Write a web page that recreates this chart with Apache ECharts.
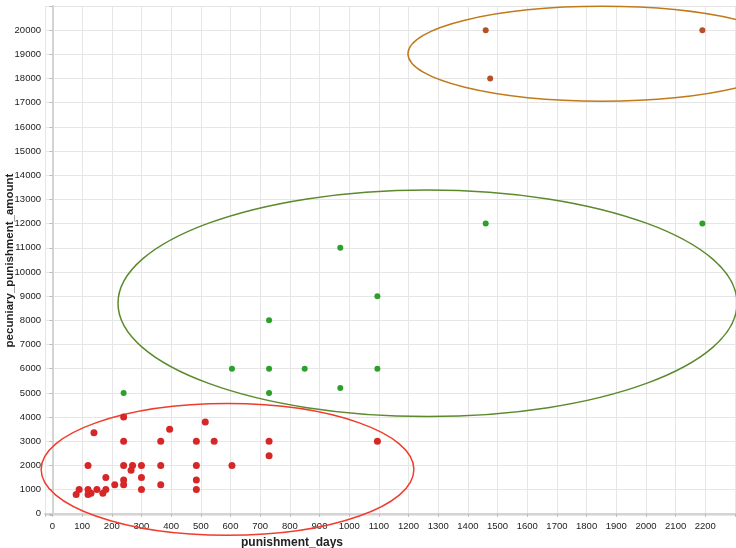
<!DOCTYPE html>
<html>
<head>
<meta charset="utf-8">
<script src="https://cdn.jsdelivr.net/npm/echarts@6/dist/echarts.min.js"></script>
<style>html,body{margin:0;padding:0;background:#fff}#chart{width:736px;height:548px}</style>
</head>
<body>
<div id="chart"></div>
<script>
// cluster 1 (red)
var redDays    = [80, 90, 120, 120, 120, 130, 140, 150, 170, 180, 180, 210, 240, 240, 240, 240, 240, 265, 270, 300, 300, 300, 365, 365, 365, 395, 485, 485, 485, 485, 515, 545, 605, 730, 730, 1095];
var redAmounts = [800, 1000, 2000, 1000, 800, 850, 3350, 1000, 850, 1500, 1000, 1200, 4000, 3000, 2000, 1400, 1200, 1800, 2000, 2000, 1500, 1000, 3000, 2000, 1200, 3500, 3000, 2000, 1400, 1000, 3800, 3000, 2000, 3000, 2400, 3000];
// cluster 2 (green)
var greenDays    = [240, 605, 730, 730, 730, 850, 970, 970, 1095, 1095, 1460, 2190];
var greenAmounts = [5000, 6000, 8000, 6000, 5000, 6000, 11000, 5200, 9000, 6000, 12000, 12000];
// cluster 3 (brown)
var brownDays    = [1460, 1475, 2190];
var brownAmounts = [20000, 18000, 20000];
// ellipses: [centerDays, centerAmount, radiusDays, radiusAmount]
var redEllipse   = [590, 1833, 628, 2724];
var greenEllipse = [1264, 8706, 1043, 4685];
var brownEllipse = [1852, 19026, 654, 1961];
// axis extents
var xExtent = [-25, 2300];
var yExtent = [-50, 21000];

function pairs(xs, ys) { return xs.map(function (x, i) { return [x, ys[i]]; }); }

function ellipseSeries(e, color) {
  return {
    type: 'custom',
    clip: false,
    silent: true,
    z: 1,
    data: [e],
    encode: { x: 0, y: 1 },
    renderItem: function (params, api) {
      var c = api.coord([api.value(0), api.value(1)]);
      var s = api.size([api.value(2), api.value(3)]);
      return {
        type: 'ellipse',
        shape: { cx: c[0], cy: c[1], rx: s[0], ry: s[1] },
        style: { fill: 'none', stroke: color, lineWidth: 1.5 }
      };
    }
  };
}

var font = '"Liberation Sans", Arial, Helvetica, sans-serif';
var chart = echarts.init(document.getElementById('chart'), null, { renderer: 'canvas' });
chart.setOption({
  animation: false,
  backgroundColor: '#ffffff',
  grid: { left: 45, right: 1, top: 6, bottom: 33, containLabel: false, outerBoundsMode: 'none' },
  xAxis: {
    type: 'value',
    min: xExtent[0], max: xExtent[1],
    splitNumber: 23,
    name: 'punishment_days',
    nameLocation: 'middle',
    nameGap: 22,
    nameMoveOverlap: false,
    nameTextStyle: { fontFamily: font, fontSize: 12, fontWeight: 'bold', color: '#222', padding: [0, 196, 0, 0] },
    axisLine: { show: true, lineStyle: { color: '#d4d4d4', width: 2 } },
    axisTick: { show: true, length: 3, lineStyle: { color: '#bbbbbb' } },
    axisLabel: {
      fontFamily: font, fontSize: 9.5, color: '#222', margin: 6,
      formatter: function (v) { return (v < 0 || v > 2200) ? '' : String(v); }
    },
    splitLine: { show: true, lineStyle: { color: '#e6e6e6', width: 1 } }
  },
  yAxis: {
    type: 'value',
    min: yExtent[0], max: yExtent[1],
    splitNumber: 21,
    name: 'pecuniary_punishment_amount',
    nameLocation: 'middle',
    nameGap: 29,
    nameRotate: 90,
    nameMoveOverlap: false,
    nameTextStyle: { fontFamily: font, fontSize: 11.5, fontWeight: 'bold', color: '#222' },
    axisLine: { show: true, lineStyle: { color: '#d4d4d4', width: 2 } },
    axisTick: { show: true, length: 3, lineStyle: { color: '#bbbbbb' } },
    axisLabel: {
      fontFamily: font, fontSize: 9.5, color: '#222', margin: 4,
      formatter: function (v) { return (v < 0 || v > 20000) ? '' : String(v); }
    },
    splitLine: { show: true, lineStyle: { color: '#e6e6e6', width: 1 } }
  },
  series: [
    ellipseSeries(redEllipse, '#f03c2c'),
    ellipseSeries(greenEllipse, '#5b8a2c'),
    ellipseSeries(brownEllipse, '#c07a1c'),
    {
      type: 'scatter', z: 3,
      data: pairs(redDays, redAmounts),
      symbolSize: 7,
      itemStyle: { color: '#d62728', opacity: 1 }
    },
    {
      type: 'scatter', z: 3,
      data: pairs(greenDays, greenAmounts),
      symbolSize: 6,
      itemStyle: { color: '#2ca02c', opacity: 1 }
    },
    {
      type: 'scatter', z: 3,
      data: pairs(brownDays, brownAmounts),
      symbolSize: 6,
      itemStyle: { color: '#b5512a', opacity: 1 }
    }
  ]
});
</script>
</body>
</html>
